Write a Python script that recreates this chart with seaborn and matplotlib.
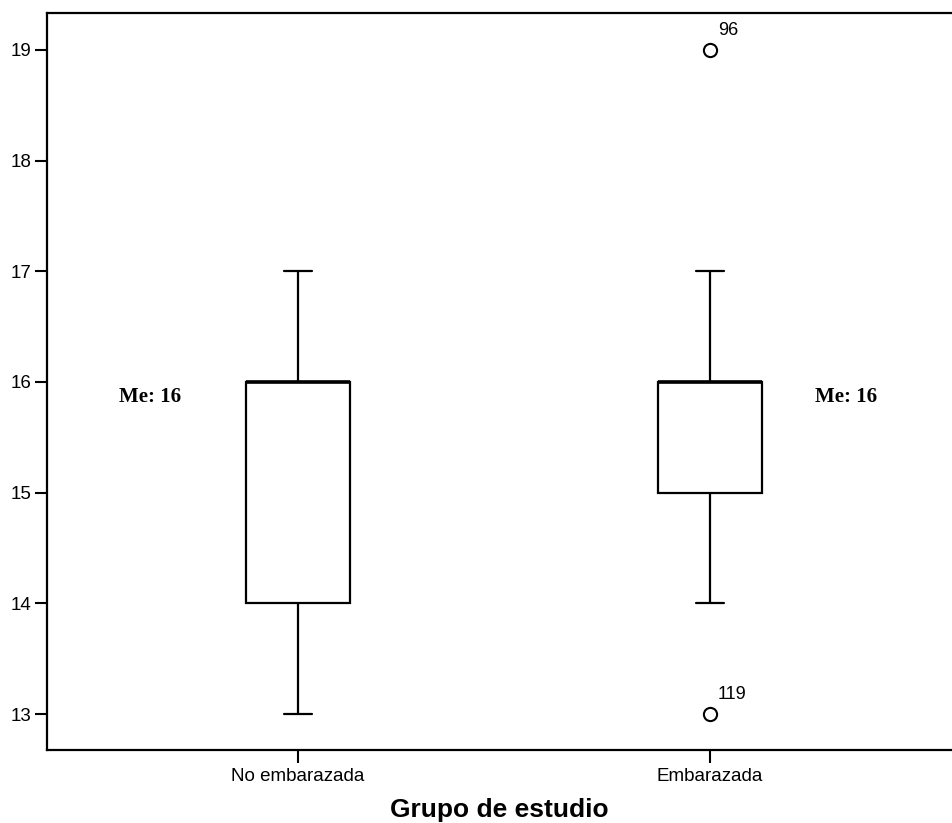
import numpy as np
import pandas as pd
import matplotlib
matplotlib.use("Agg")
import matplotlib.pyplot as plt
from matplotlib import cbook
import seaborn as sns

# Age frequencies (years) for each study group
ages = [13, 14, 15, 16, 17, 18, 19]
groups = ["No embarazada", "Embarazada"]
counts_no_emb = [5, 10, 8, 20, 7, 0, 0]
counts_emb = [1, 5, 20, 30, 5, 0, 1]
# Case numbers of the outliers, in ascending order of value
outlier_cases = {"No embarazada": [], "Embarazada": ["119", "96"]}

df = pd.DataFrame({
    "grupo": np.repeat(groups, [sum(counts_no_emb), sum(counts_emb)]),
    "edad": np.concatenate([np.repeat(ages, counts_no_emb),
                            np.repeat(ages, counts_emb)]),
})

sns.set_style("white")
plt.rcParams["font.family"] = ["Liberation Sans", "DejaVu Sans"]
plt.rcParams["text.color"] = "black"
plt.rcParams["axes.labelcolor"] = "black"

fig = plt.figure(figsize=(9.52, 8.23), dpi=100)
ax = fig.add_axes([47 / 952, 73 / 823, 1 - 47 / 952, (750 - 13) / 823])

sns.boxplot(
    data=df, x="grupo", y="edad", order=groups, ax=ax,
    width=0.253, color="white", linecolor="black", linewidth=1.6,
    whis=1.5, capwidths=0.066,
    medianprops=dict(linewidth=2.6, color="black"),
    flierprops=dict(marker="o", markersize=9.5, markerfacecolor="none",
                    markeredgecolor="black", markeredgewidth=1.5),
)

ax.set_ylim(12.675, 19.334)
ax.set_xlim(-0.609, 1.587)
ax.set_yticks(range(13, 20))

for side in ["left", "bottom", "top"]:
    ax.spines[side].set_visible(True)
    ax.spines[side].set_color("black")
    ax.spines[side].set_linewidth(1.6)
ax.spines["right"].set_visible(False)

ax.tick_params(axis="both", direction="out", length=9, width=1.5,
               colors="black", labelsize=13.5, bottom=True, left=True)
ax.tick_params(axis="y", pad=2)
ax.tick_params(axis="x", pad=4)
ax.set_ylabel("")
ax.set_xlabel("Grupo de estudio", fontsize=19, fontweight="bold",
              labelpad=9, color="black")

# Median annotations and outlier case labels
me_x = [-0.36, 1.33]
for i, g in enumerate(groups):
    vals = df.loc[df["grupo"] == g, "edad"].to_numpy()
    med = np.median(vals)
    ax.text(me_x[i], med - 0.14, f"Me: {med:g}", ha="center", va="center",
            fontsize=15, fontweight="bold", family="Liberation Serif",
            color="black")
    stats = cbook.boxplot_stats(vals, whis=1.5)[0]
    fliers = np.sort(stats["fliers"])
    for val, case in zip(fliers, outlier_cases[g]):
        ax.annotate(case, xy=(i, val), xytext=(8, 11),
                    textcoords="offset pixels", ha="left", va="bottom",
                    fontsize=13, color="black")

fig.savefig("out.png", dpi=100, facecolor="white")
